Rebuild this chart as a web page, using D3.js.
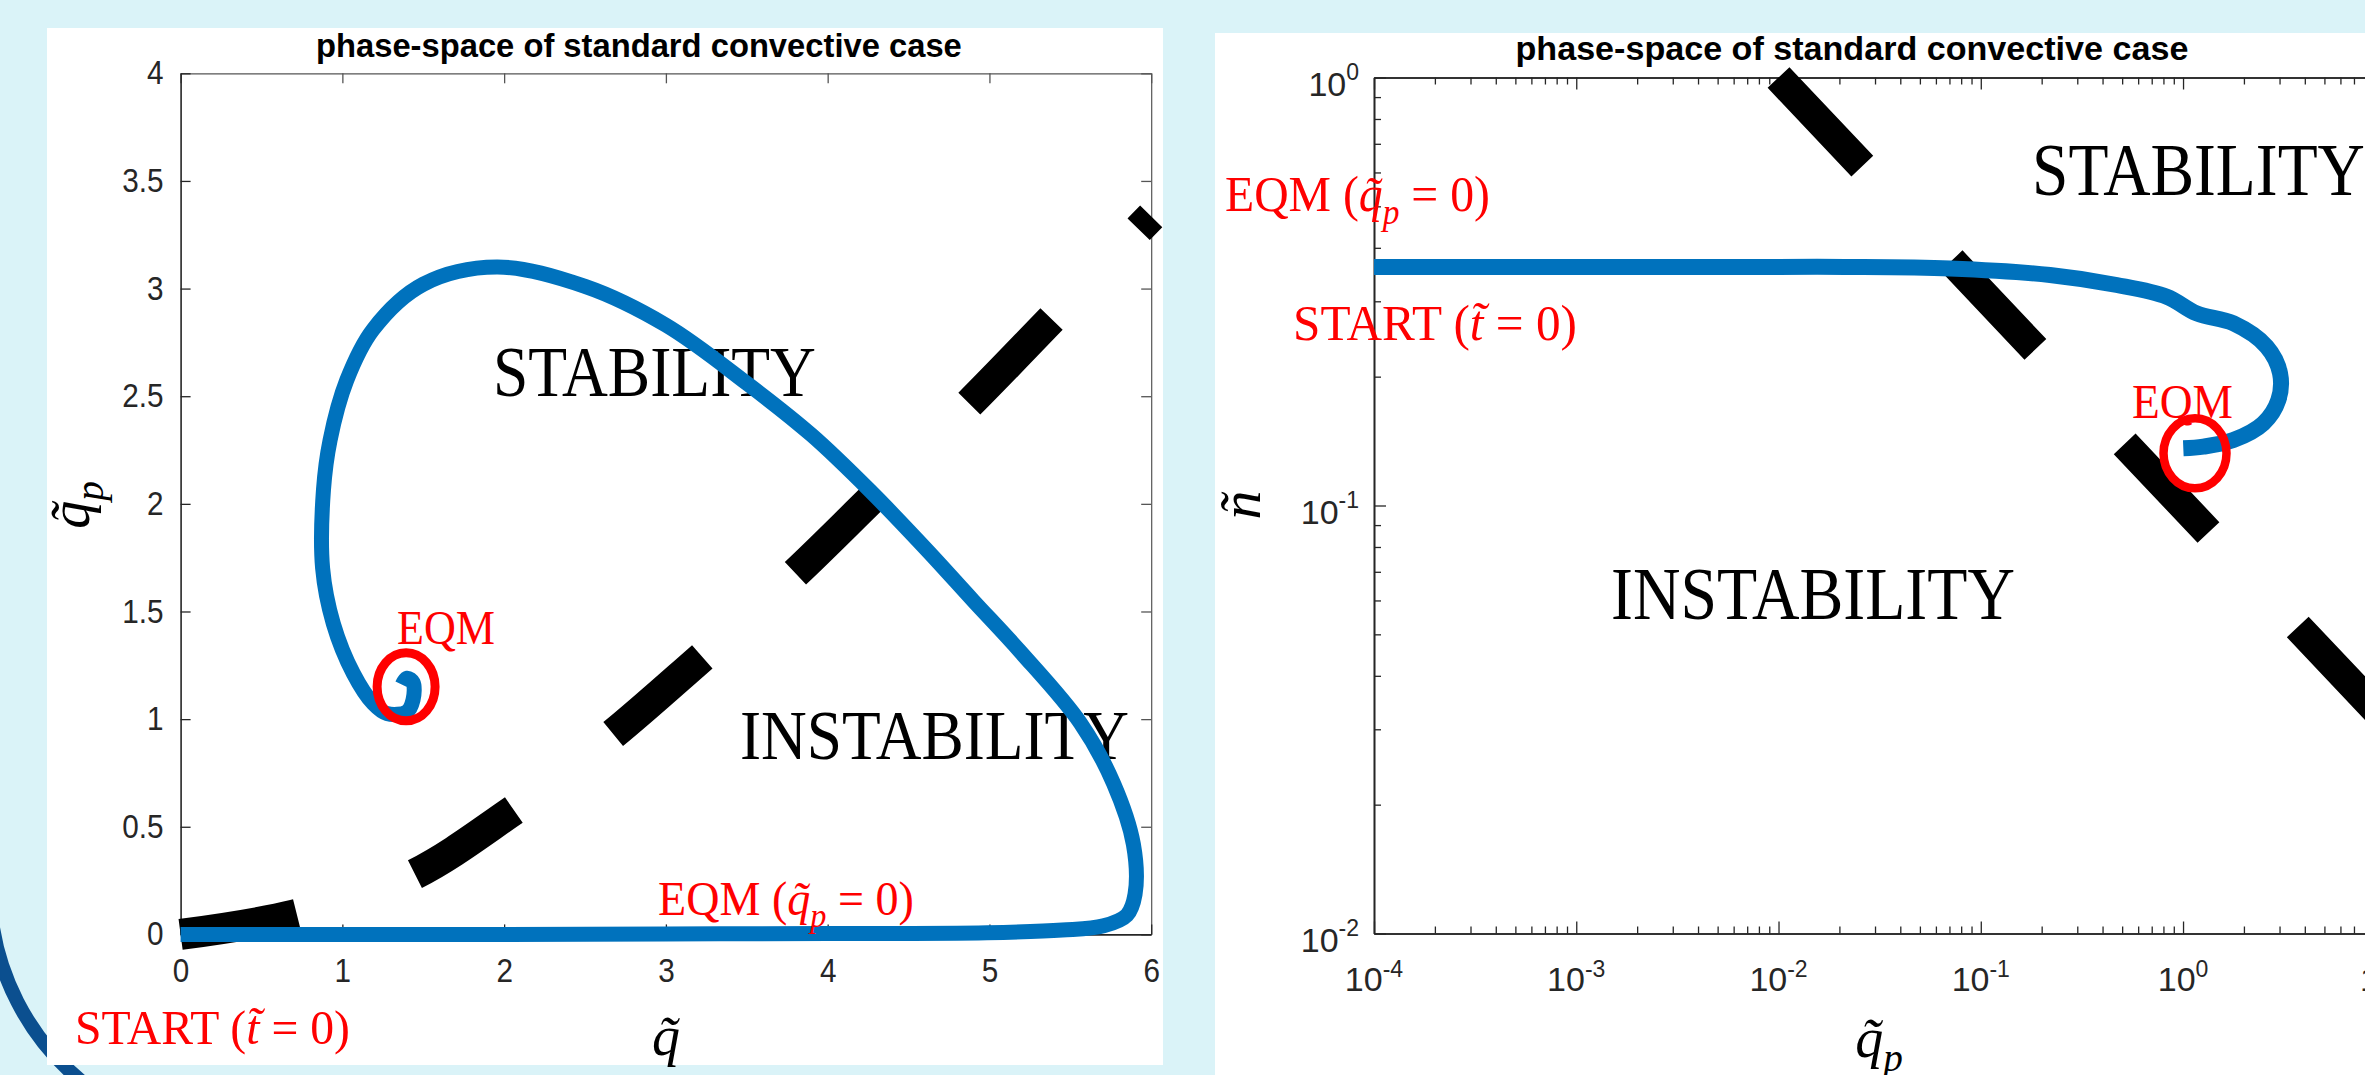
<!DOCTYPE html>
<html><head><meta charset="utf-8">
<script src="https://cdn.jsdelivr.net/npm/d3@7"></script>
<style>html,body{margin:0;padding:0;background:#daf3f8;overflow:hidden}</style>
</head><body>
<svg id="c" width="2365" height="1075"></svg>
<script>
// ---------------- data ----------------
const chartTitle = "phase-space of standard convective case";
// left panel (linear axes)
const leftXTicks = [0, 1, 2, 3, 4, 5, 6];
const leftYTicks = [0, 0.5, 1, 1.5, 2, 2.5, 3, 3.5, 4];
const leftYTickLabels = ["0", "0.5", "1", "1.5", "2", "2.5", "3", "3.5", "4"];
// trajectory q~ , q~p
const trajQ  = [0, 1, 2, 3, 4, 4.985, 5.45, 5.706, 5.85, 5.9, 5.89, 5.768, 5.562, 5.19, 4.9, 4.614, 4.263, 3.9, 3.5, 3.0, 2.5, 1.955, 1.5, 1.19, 1.027, 0.924, 0.883, 0.878, 0.944, 1.068, 1.19, 1.275, 1.40, 1.437, 1.437, 1.40, 1.37];
const trajQp = [0, 0, 0, 0.002, 0.004, 0.008, 0.02, 0.04, 0.09, 0.186, 0.418, 0.70, 0.982, 1.314, 1.55, 1.785, 2.06, 2.32, 2.56, 2.83, 3.01, 3.10, 3.02, 2.81, 2.574, 2.296, 2.063, 1.70, 1.444, 1.212, 1.073, 1.026, 1.035, 1.09, 1.17, 1.19, 1.16];
// stability boundary (dashed)
const boundQ  = [0, 0.70, 1.405, 2.024, 2.629, 3.197, 3.773, 4.284, 4.871, 5.401, 5.918, 6.0];
const boundQp = [0, 0.09, 0.264, 0.559, 0.903, 1.271, 1.658, 2.032, 2.462, 2.872, 3.272, 3.335];
const eqmLeft = [1.394, 1.15];

// right panel (log-log axes)
const rightXTickExp = [-4, -3, -2, -1, 0, 1];
const rightYTickExp = [-2, -1, 0];
const rTrajQp = [1e-4, 1e-3, 1e-2, 0.0213, 0.0705, 0.22, 0.47, 0.831, 1.169, 1.773, 2.593, 3.017, 2.96, 2.495, 1.773, 1.26, 1.003];
const rTrajN  = [0.361, 0.361, 0.361, 0.361, 0.358, 0.3456, 0.3275, 0.3075, 0.281, 0.2665, 0.235, 0.2037, 0.1764, 0.1556, 0.1422, 0.1372, 0.136];
const rBoundQp = [0.01, 10];
const rBoundN  = [1.0, 0.0316];
const eqmRight = [1.146, 0.1324];

// ---------------- setup ----------------
const SANS = "'Liberation Sans', Arial, Helvetica, sans-serif";
const SERIF = "'Liberation Serif', 'Times New Roman', serif";
const BLUE = "#0072BD", RED = "#ff0000", AX = "#262626";
const svg = d3.select("#c");

svg.append("rect").attr("width", 2365).attr("height", 1075).attr("fill", "#daf3f8");
// decorative slide arc (behind the white panel)
svg.append("path").attr("d", "M -10,880 A 250 250 0 0 0 100,1095")
  .attr("fill", "none").attr("stroke", "#0b4f8f").attr("stroke-width", 14);
svg.append("rect").attr("x", 47).attr("y", 28).attr("width", 1116).attr("height", 1037).attr("fill", "#fff");
svg.append("rect").attr("x", 1215).attr("y", 33).attr("width", 1160).attr("height", 1050).attr("fill", "#fff");

function styleAxis(g, color, w) {
  g.attr("font-family", null).attr("font-size", null);
  g.select(".domain").attr("stroke", color).attr("stroke-width", w);
  g.selectAll(".tick line").attr("stroke", color).attr("stroke-width", 1.3);
  g.selectAll(".tick text").attr("font-family", SANS).attr("font-size", 33).attr("fill", AX);
}
function squeeze(sel, f) {
  sel.each(function () {
    const w = this.getComputedTextLength();
    if (w > 0) { this.setAttribute("textLength", (w * f).toFixed(2)); this.setAttribute("lengthAdjust", "spacingAndGlyphs"); }
  });
}
// math/serif label: parts [{t, it, sub}]
function label(parent, x, y, parts, o) {
  const g = parent.append("g");
  const t = g.append("text").attr("font-family", o.family || SERIF).attr("font-size", o.size)
    .attr("fill", o.color || "#000").attr("font-weight", o.weight || null);
  let cur = 0;
  parts.forEach(p => {
    const ts = t.append("tspan").text(p.t);
    if (p.it) ts.attr("font-style", "italic");
    const target = p.sub ? 0.25 * o.size : 0;
    if (target !== cur) { ts.attr("dy", target - cur); cur = target; }
    if (p.sub) ts.attr("font-size", o.size * 0.7);
  });
  const w = t.node().getComputedTextLength();
  const sx = o.width ? o.width / w : 1;
  const off = o.anchor === "middle" ? -w / 2 : 0;
  g.attr("transform", `translate(${x},${y})${o.rotate ? ` rotate(${o.rotate})` : ""} scale(${sx},1) translate(${off},0)`);
  return g;
}

// ---------------- left panel ----------------
const xL = d3.scaleLinear().domain([0, 6]).range([180.6, 1151.2]);
const yL = d3.scaleLinear().domain([0, 4]).range([934.4, 73.3]);
const gL = svg.append("g");

const axT = gL.append("g").attr("transform", `translate(0,${yL(4)})`)
  .call(d3.axisTop(xL).tickValues(leftXTicks).tickSizeInner(-10).tickSizeOuter(0).tickFormat(() => ""));
styleAxis(axT, "#555", 1.2);
const axR = gL.append("g").attr("transform", `translate(${xL(6)},0)`)
  .call(d3.axisRight(yL).tickValues(leftYTicks).tickSizeInner(-10).tickSizeOuter(0).tickFormat(() => ""));
styleAxis(axR, "#555", 1.2);
const axB = gL.append("g").attr("transform", `translate(0,${yL(0)})`)
  .call(d3.axisBottom(xL).tickValues(leftXTicks).tickSizeInner(-10).tickSizeOuter(0).tickPadding(24).tickFormat(d3.format("d")));
styleAxis(axB, AX, 1.6);
const axLft = gL.append("g").attr("transform", `translate(${xL(0)},0)`)
  .call(d3.axisLeft(yL).tickValues(leftYTicks).tickSizeInner(-10).tickSizeOuter(0).tickPadding(17).tickFormat((d, i) => leftYTickLabels[i]));
styleAxis(axLft, AX, 1.6);
squeeze(axB.selectAll(".tick text"), 0.9);
squeeze(axLft.selectAll(".tick text"), 0.9);

label(gL, 639, 57, [{ t: chartTitle }], { family: SANS, size: 33, weight: "bold", anchor: "middle", width: 646 });
label(gL, 666, 1055, [{ t: "q\u0303", it: true }], { size: 56, anchor: "middle" });
label(gL, 89, 505, [{ t: "q\u0303", it: true }, { t: "p", it: true, sub: true }], { size: 56, anchor: "middle", rotate: -90 });

// boundary
const lineL = d3.line().x(d => xL(d[0])).y(d => yL(d[1])).curve(d3.curveCatmullRom.alpha(0.5));
gL.append("path").attr("d", lineL(boundQ.map((q, i) => [q, boundQp[i]])))
  .attr("fill", "none").attr("stroke", "#000").attr("stroke-width", 31).attr("stroke-dasharray", "118 125");

label(gL, 493, 396, [{ t: "STABILITY" }], { size: 72, width: 323 });
label(gL, 740, 759, [{ t: "INSTABILITY" }], { size: 70, width: 389 });

gL.append("path").attr("d", lineL(trajQ.map((q, i) => [q, trajQp[i]])))
  .attr("fill", "none").attr("stroke", BLUE).attr("stroke-width", 15).attr("stroke-linejoin", "round");

gL.append("ellipse").attr("cx", xL(eqmLeft[0])).attr("cy", yL(eqmLeft[1])).attr("rx", 29).attr("ry", 34)
  .attr("fill", "none").attr("stroke", RED).attr("stroke-width", 9);

label(gL, 397, 644, [{ t: "EQM" }], { size: 49, color: RED, width: 98 });
label(gL, 658, 915, [{ t: "EQM (" }, { t: "q\u0303", it: true }, { t: "p", it: true, sub: true }, { t: " = 0)" }], { size: 49, color: RED, width: 256 });
label(gL, 75, 1044, [{ t: "START (" }, { t: "t\u0303", it: true }, { t: " = 0)" }], { size: 49, color: RED, width: 275 });

// ---------------- right panel ----------------
const xR = d3.scaleLog().domain([1e-4, 10]).range([1374, 2385.3]);
const yR = d3.scaleLog().domain([0.01, 1]).range([933.5, 77.5]);
const gR = svg.append("g");

const majX = rightXTickExp.map(e => Math.pow(10, e));
const majY = rightYTickExp.map(e => Math.pow(10, e));
const minX = [], minY = [];
rightXTickExp.slice(0, -1).forEach(e => { for (let k = 2; k <= 9; k++) minX.push(k * Math.pow(10, e)); });
rightYTickExp.slice(0, -1).forEach(e => { for (let k = 2; k <= 9; k++) minY.push(k * Math.pow(10, e)); });

function logAxis(gen, scale, vals, size, tr, color, w) {
  const a = gR.append("g").attr("transform", tr)
    .call(gen(scale).tickValues(vals).tickSizeInner(-size).tickSizeOuter(0).tickFormat(() => ""));
  styleAxis(a, color, w);
  return a;
}
logAxis(d3.axisTop, xR, majX, 12, `translate(0,${yR(1)})`, AX, 1.3);
logAxis(d3.axisTop, xR, minX, 7, `translate(0,${yR(1)})`, AX, 1.3);
logAxis(d3.axisRight, yR, majY, 12, `translate(${xR(10)},0)`, AX, 1.3);
logAxis(d3.axisRight, yR, minY, 7, `translate(${xR(10)},0)`, AX, 1.3);
logAxis(d3.axisBottom, xR, majX, 12, `translate(0,${yR(0.01)})`, AX, 1.6);
logAxis(d3.axisBottom, xR, minX, 7, `translate(0,${yR(0.01)})`, AX, 1.6);
logAxis(d3.axisLeft, yR, majY, 12, `translate(${xR(1e-4)},0)`, AX, 1.6);
logAxis(d3.axisLeft, yR, minY, 7, `translate(${xR(1e-4)},0)`, AX, 1.6);

rightXTickExp.forEach(e => {
  const t = gR.append("text").attr("x", xR(Math.pow(10, e))).attr("y", 991).attr("text-anchor", "middle")
    .attr("font-family", SANS).attr("font-size", 34).attr("fill", AX);
  t.append("tspan").text("10");
  t.append("tspan").attr("dy", -14).attr("font-size", 23).text(String(e));
});
rightYTickExp.forEach(e => {
  const yy = yR(Math.pow(10, e));
  const t = gR.append("text").attr("x", 1359).attr("y", yy + 18).attr("text-anchor", "end")
    .attr("font-family", SANS).attr("font-size", 34).attr("fill", AX);
  t.append("tspan").text("10");
  t.append("tspan").attr("dy", -16).attr("font-size", 23).text(String(e));
});

label(gR, 1852, 60, [{ t: chartTitle }], { family: SANS, size: 34, weight: "bold", anchor: "middle", width: 673 });
label(gR, 1879, 1057, [{ t: "q\u0303", it: true }, { t: "p", it: true, sub: true }], { size: 56, anchor: "middle" });
label(gR, 1260, 505, [{ t: "\u00f1", it: true }], { size: 58, anchor: "middle", rotate: -90 });

const lineR = d3.line().x(d => xR(d[0])).y(d => yR(d[1]));
gR.append("path").attr("d", lineR(rBoundQp.map((q, i) => [q, rBoundN[i]])))
  .attr("fill", "none").attr("stroke", "#000").attr("stroke-width", 30).attr("stroke-dasharray", "122 130");

label(gR, 2032, 195, [{ t: "STABILITY" }], { size: 75, width: 333 });
label(gR, 1611, 619, [{ t: "INSTABILITY" }], { size: 73, width: 404 });

gR.append("path").attr("d", lineR.curve(d3.curveCatmullRom.alpha(0.5))(rTrajQp.map((q, i) => [q, rTrajN[i]])))
  .attr("fill", "none").attr("stroke", BLUE).attr("stroke-width", 16).attr("stroke-linejoin", "round").attr("stroke-linecap", "butt");

gR.append("ellipse").attr("cx", xR(eqmRight[0])).attr("cy", yR(eqmRight[1])).attr("rx", 31.5).attr("ry", 35)
  .attr("fill", "none").attr("stroke", RED).attr("stroke-width", 8.5);

label(gR, 2132, 418, [{ t: "EQM" }], { size: 48, color: RED, width: 101 });
label(gR, 1225, 211, [{ t: "EQM (" }, { t: "q\u0303", it: true }, { t: "p", it: true, sub: true }, { t: " = 0)" }], { size: 50, color: RED, width: 265 });
label(gR, 1293, 340, [{ t: "START (" }, { t: "t\u0303", it: true }, { t: " = 0)" }], { size: 50, color: RED, width: 284 });
</script></body></html>
